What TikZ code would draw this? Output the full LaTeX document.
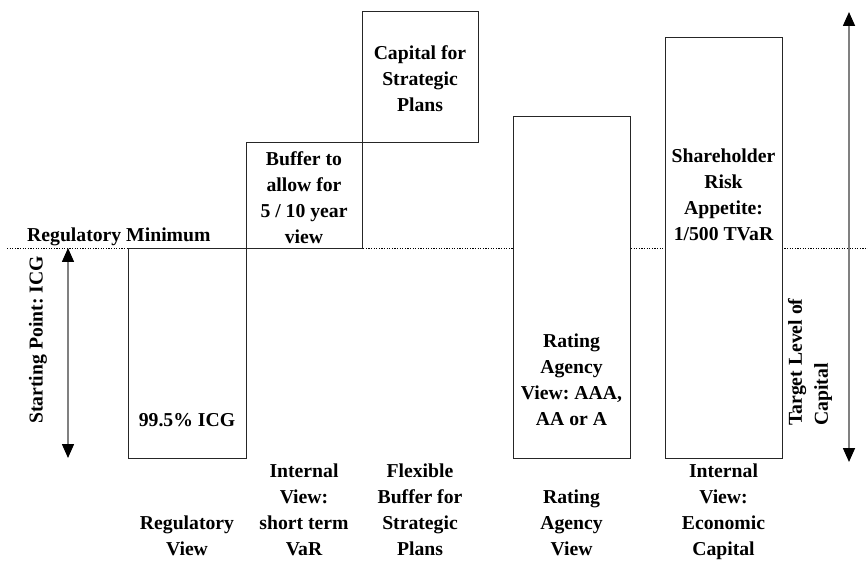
\documentclass[tikz,border=0pt]{standalone}
\usepackage{fontspec}
\setmainfont{Liberation Serif}
\usetikzlibrary{arrows.meta}
\frenchspacing
\begin{document}
\begin{tikzpicture}[x=1pt,y=-1pt,
  lbl/.style={font=\bfseries\fontsize{19.7}{26}\selectfont, align=center, inner sep=0pt, anchor=north},
  capbox/.style={draw=black!85, line width=1pt, fill=white, inner sep=0pt, anchor=north west},
  dimarrow/.style={draw=black!50, line width=1.6pt, {Triangle[width=12pt,length=14pt,color=black]}-{Triangle[width=12pt,length=14pt,color=black]}},
  guide/.style={draw=black, line width=0.9pt, dash pattern=on 1.2pt off 1.4pt}]
\useasboundingbox (0,0) rectangle (868,561);
% guide line (regulatory minimum)
\coordinate (gl) at (7,248);
\coordinate (gr) at (868,248);
\draw[guide] (gl) -- (gr);
% boxes
\node[capbox, minimum width=118pt, minimum height=210pt] (b1) at (128,248) {};
\node[capbox, minimum width=116pt, minimum height=106pt] (b2) at (246,142) {};
\node[capbox, minimum width=116pt, minimum height=131pt] (b3) at (362,11) {};
\node[capbox, minimum width=117pt, minimum height=342pt] (b4) at (513,116) {};
\node[capbox, minimum width=117pt, minimum height=421pt] (b5) at (665,37) {};
% arrows
\coordinate (la1) at (68,248);
\coordinate (la2) at (68,458);
\draw[dimarrow] (la1) -- (la2);
\coordinate (ra1) at (849,12);
\coordinate (ra2) at (849,462);
\draw[dimarrow] (ra1) -- (ra2);
% texts
\node[lbl, anchor=base west] (regmin) at (27,242) {Regulatory Minimum};
\node[lbl] (t1) at (187,413.4) {99.5\% ICG};
\node[lbl] (t2) at (304,151) {Buffer to\\allow for\\5 / 10 year\\view};
\node[lbl] (t3) at (420,45.5) {Capital for\\Strategic\\Plans};
\node[lbl] (t4) at (571.5,333.4) {Rating\\Agency\\View: AAA,\\AA or A};
\node[lbl] (t5) at (723.5,149) {Shareholder\\Risk\\Appetite:\\1/500 TVaR};
% bottom captions
\node[lbl] (v1) at (187,515.4) {Regulatory\\View};
\node[lbl] (v2) at (304,463.4) {Internal\\View:\\short term\\VaR};
\node[lbl] (v3) at (420,463.4) {Flexible\\Buffer for\\Strategic\\Plans};
\node[lbl] (v4) at (571.5,489.4) {Rating\\Agency\\View};
\node[lbl] (v5) at (723.5,463.4) {Internal\\View:\\Economic\\Capital};
% rotated labels
\node[lbl, anchor=center, rotate=90] (sp) at (38,340) {Starting Point: ICG};
\node[lbl, anchor=west, rotate=90, align=left] (tl) at (810,426) {Target Level of\\Capital};
\end{tikzpicture}
\end{document}
